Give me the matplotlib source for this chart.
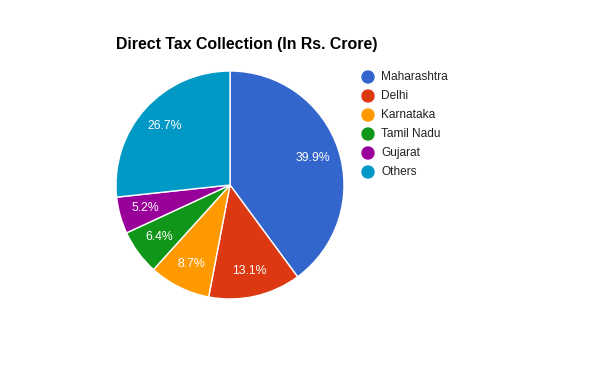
import matplotlib.pyplot as plt
from matplotlib.patches import Ellipse

plt.rcParams["font.family"] = ["Liberation Sans", "DejaVu Sans"]

# ── Data ──────────────────────────────────────────────────────────────────────
states = ["Maharashtra", "Delhi", "Karnataka", "Tamil Nadu", "Gujarat", "Others"]
shares = [39.9, 13.1, 8.7, 6.4, 5.2, 26.7]
colors = ["#3366cc", "#dc3912", "#ff9900", "#109618", "#990099", "#0099c6"]

W, H = 600, 371
fig = plt.figure(figsize=(W / 100, H / 100), dpi=100)

# pie centre (230, 185) px, radius 114 px
cx, cy, r = 230, 185, 114
ax = fig.add_axes([(cx - r) / W, (H - cy - r) / H, 2 * r / W, 2 * r / H])
wedges, texts, autotexts = ax.pie(
    shares, colors=colors, startangle=90, counterclock=False,
    autopct="%.1f%%", pctdistance=0.77, radius=1,
    wedgeprops=dict(edgecolor="white", linewidth=1),
    textprops=dict(color="white", fontsize=8.8),
)
ax.set_xlim(-1, 1)
ax.set_ylim(-1, 1)
ax.set_aspect("equal")
ax.axis("off")

fig.text(116 / W, 1 - 45 / H, "Direct Tax Collection (In Rs. Crore)",
         fontsize=11.4, fontweight="bold", color="black", va="center", ha="left")

# ── Legend ────────────────────────────────────────────────────────────────────
for i, (name, col) in enumerate(zip(states, colors)):
    y = 77 + i * 19
    fig.patches.append(Ellipse((368 / W, 1 - y / H), 12 / W, 12 / H,
                               transform=fig.transFigure, color=col))
    fig.text(381 / W, 1 - y / H, name, fontsize=8.6, color="#222222",
             va="center", ha="left")

plt.savefig("out.png", dpi=100)
